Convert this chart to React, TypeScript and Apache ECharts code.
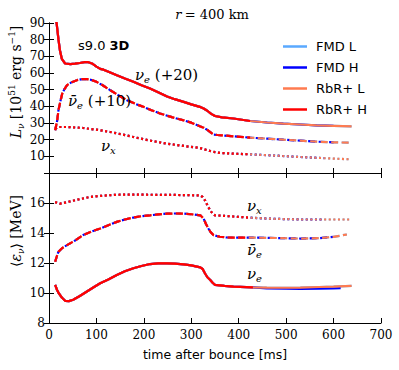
import { useEffect, useRef } from "react";
import * as echarts from "echarts";

// ---- data (time after bounce [ms], value) ----
const lumNue = [[13,95],[16,90],[20,80],[23,73.7],[27,68.5],[34,65.7],[45,65.3],[55,65.6],[65,66],[75,66.5],[83,66.5],[92,65.5],[100,63.8],[108,62.5],[115,62],[128,60.5],[143,58.7],[160,56.7],[178,54.7],[195,52.6],[213,50.7],[230,48.5],[249,45.9],[265,44.3],[284,42.7],[300,41.2],[318,39.7],[326,38.7],[333,37.5],[342,35.5],[350,34.2],[365,33.4],[389,32.7],[424,31.2],[460,30.3],[494,29.6],[530,29.1],[564,28.6],[600,28.3],[638,28]];
const lumAnue = [[13,25.6],[17,31],[20,37.7],[24,43],[28,47.7],[33,50.5],[38,52.7],[48,54.5],[59,55.7],[70,56.3],[80,56.3],[90,55.8],[100,54.7],[114,52.5],[129,49.7],[146,46.7],[164,43.7],[182,41.5],[199,39.7],[216,37.7],[234,35.7],[259,33.5],[284,31.6],[300,30.2],[318,28],[326,27.2],[333,26],[340,24.5],[347,23],[355,22.8],[364,22.6],[390,22],[424,21.2],[460,20.6],[494,20],[530,19.4],[564,18.8],[600,18.4],[635,18.2]];
const lumNux = [[13,26.6],[20,27.6],[40,27.6],[72,27],[100,26],[129,24.6],[155,23.1],[178,21.6],[210,19.6],[249,17.6],[285,16.2],[318,15],[330,14],[340,13.2],[350,12.5],[361,12],[390,11.6],[424,11.2],[480,10.4],[530,9.6],[580,8.9],[635,8.2]];

const eNux = [[13,16.06],[18,16],[23,15.96],[30,16],[38,16.06],[60,16.22],[86,16.4],[110,16.48],[143,16.55],[180,16.56],[213,16.55],[260,16.54],[300,16.52],[319,16.5],[324,16.4],[329,16.18],[334,15.85],[340,15.5],[345,15.3],[350,15.18],[389,15.1],[420,15.03],[459,14.96],[530,14.9],[580,14.9],[638,14.9]];
const eAnue = [[13,12.08],[17,12.5],[20,12.75],[28,13],[38,13.19],[55,13.5],[72,13.86],[90,14.1],[108,14.3],[125,14.52],[143,14.74],[160,14.9],[178,15.03],[195,15.12],[213,15.18],[230,15.24],[249,15.29],[265,15.3],[284,15.29],[300,15.25],[319,15.18],[326,14.96],[331,14.6],[336,14.3],[341,14.05],[347,13.86],[360,13.75],[375,13.7],[420,13.69],[459,13.68],[530,13.63],[570,13.66],[600,13.74],[628,13.9]];
const eNueHead = [[13,10.54],[17,10.2],[20.5,9.99],[27,9.7],[34,9.48],[42,9.46],[51,9.55],[65,9.8],[80,10.1],[95,10.4],[108,10.65],[125,10.9],[143,11.2],[160,11.45],[178,11.65],[195,11.8],[213,11.93],[230,11.97],[249,11.98],[265,11.96],[284,11.91],[300,11.84],[319,11.71],[324,11.6],[329,11.3],[334,11.05],[340,10.87],[345,10.68],[350,10.54],[370,10.47],[389,10.43],[430,10.38]];
const eNueTailL = [[459,10.36],[500,10.35],[530,10.36],[570,10.4],[600,10.42],[638,10.47]];
const eNueTailH = [[459,10.31],[500,10.29],[530,10.28],[570,10.29],[600,10.3],[615,10.32]];

const modelNames = ["FMD L", "FMD H", "RbR+ L", "RbR+ H"];
const modelColors = ["#5aa9ff", "#0000ff", "#ff7b50", "#ff0000"];
const modelEnds = [640, 618, 640, 432];
const modelDashOffsets = [0, 2, 0, 0];

const SERIF = "DejaVu Serif";
const SANS = "DejaVu Sans";

export default function App() {
  const ref = useRef<HTMLDivElement>(null);
  useEffect(() => {
    if (!ref.current) return;
    const chart = echarts.init(ref.current, null, { renderer: "svg" });

    const curves = [
      { grid: 0, data: () => lumNue, type: "solid" },
      { grid: 0, data: () => lumAnue, type: "dashed" },
      { grid: 0, data: () => lumNux, type: "dotted" },
      { grid: 1, data: (m: number) => eNueHead.concat(m === 1 ? eNueTailH : eNueTailL), type: "solid" },
      { grid: 1, data: () => eAnue, type: "dashed" },
      { grid: 1, data: () => eNux, type: "dotted" },
    ];
    const series: any[] = [];
    curves.forEach((c) => {
      modelNames.forEach((name, m) => {
        const dash = c.type === "dashed" ? [7, 3.5] : c.type === "dotted" ? [2, 2.6] : "solid";
        series.push({
          type: "line",
          name,
          xAxisIndex: c.grid === 0 ? 0 : 2,
          yAxisIndex: c.grid === 0 ? 0 : 2,
          data: c.data(m).filter((p) => p[0] <= modelEnds[m]),
          showSymbol: false,
          symbol: "none",
          smooth: false,
          clip: true,
          z: 2 + m,
          lineStyle: {
            color: modelColors[m],
            width: 2.2,
            type: dash,
            dashOffset: c.type === "dashed" ? modelDashOffsets[m] : 0,
            cap: "butt",
          },
          itemStyle: { color: modelColors[m] },
        });
      });
    });

    const axisCommon = {
      axisLine: { show: true, lineStyle: { color: "#000", width: 1 } },
      axisTick: { show: true, inside: true, length: 5, lineStyle: { color: "#000" } },
      splitLine: { show: false },
    };
    const labelStyle = { fontFamily: SERIF, fontSize: 12, color: "#000" };

    const xAxis: any[] = [];
    const yAxis: any[] = [];
    [0, 1].forEach((g) => {
      xAxis.push({
        ...axisCommon,
        gridIndex: g,
        type: "value",
        position: "bottom",
        min: 0,
        max: 700,
        interval: 100,
        axisLabel: g === 1 ? { ...labelStyle, margin: 6 } : { show: false },
      });
      xAxis.push({
        ...axisCommon,
        gridIndex: g,
        type: "value",
        position: "top",
        min: 0,
        max: 700,
        interval: 100,
        axisLabel: { show: false },
      });
      const yr = g === 0 ? { min: 0, max: 90, interval: 10 } : { min: 8, max: 18, interval: 2 };
      yAxis.push({
        ...axisCommon,
        gridIndex: g,
        type: "value",
        position: "left",
        ...yr,
        axisLabel: {
          ...labelStyle,
          margin: 4,
          showMinLabel: g === 1,
          showMaxLabel: g === 0,
        },
      });
      yAxis.push({
        ...axisCommon,
        gridIndex: g,
        type: "value",
        position: "right",
        ...yr,
        axisLabel: { show: false },
      });
    });

    const nuRich = {
      it: { fontFamily: SERIF, fontStyle: "italic", fontSize: 15, lineHeight: 18, verticalAlign: "middle", color: "#000" },
      sub: { fontFamily: SERIF, fontStyle: "italic", fontSize: 10, lineHeight: 10, verticalAlign: "bottom", color: "#000" },
      rm: { fontFamily: SERIF, fontSize: 15, lineHeight: 18, verticalAlign: "middle", color: "#000" },
    };

    const textEl = (x: number, y: number, text: string, rich: any, align = "left", rotation = 0) => ({
      type: "text",
      x,
      y,
      rotation,
      style: {
        text,
        rich,
        textAlign: align,
        textVerticalAlign: "middle",
      },
      z: 100,
    });

    const graphic: any[] = [
      textEl(212, 14, "{i|r} {r|= 400 km}", {
        i: { fontFamily: SERIF, fontStyle: "italic", fontSize: 13, color: "#000" },
        r: { fontFamily: SERIF, fontSize: 13, color: "#000" },
      }, "center"),
      textEl(78, 45, "{n|s9.0 }{b|3D}", {
        n: { fontFamily: SANS, fontSize: 13, color: "#000" },
        b: { fontFamily: SANS, fontSize: 13, fontWeight: "bold", color: "#000" },
      }),
      textEl(135, 75, "{it|ν}{sub|e}{rm| (+20)}", nuRich),
      textEl(68, 101, "{it|ν̄}{sub|e}{rm| (+10)}", nuRich),
      textEl(101, 146, "{it|ν}{sub|x}", nuRich),
      textEl(247, 206, "{it|ν}{sub|x}", nuRich),
      textEl(247, 250, "{it|ν̄}{sub|e}", nuRich),
      textEl(247, 274, "{it|ν}{sub|e}", nuRich),
      {
        type: "text",
        x: 215,
        y: 354,
        style: {
          text: "time after bounce [ms]",
          font: `12.5px ${SANS}`,
          fill: "#000",
          textAlign: "center",
          textVerticalAlign: "middle",
        },
      },
      textEl(16, 82, "{it|L}{sub|ν}{rm| [10}{sup|51}{rm| erg s}{sup|−1}{rm|]}", {
        it: { fontFamily: SERIF, fontStyle: "italic", fontSize: 14, lineHeight: 18, verticalAlign: "middle", color: "#000" },
        rm: { fontFamily: SERIF, fontSize: 14, lineHeight: 18, verticalAlign: "middle", color: "#000" },
        sub: { fontFamily: SERIF, fontStyle: "italic", fontSize: 9, lineHeight: 9, verticalAlign: "bottom", color: "#000" },
        sup: { fontFamily: SERIF, fontSize: 9, lineHeight: 9, verticalAlign: "top", color: "#000" },
      }, "center", Math.PI / 2),
      textEl(16, 231, "{rm|⟨}{it|ε}{sub|ν}{rm|⟩ [MeV]}", {
        it: { fontFamily: SERIF, fontStyle: "italic", fontSize: 14, lineHeight: 18, verticalAlign: "middle", color: "#000" },
        rm: { fontFamily: SERIF, fontSize: 14, lineHeight: 18, verticalAlign: "middle", color: "#000" },
        sub: { fontFamily: SERIF, fontStyle: "italic", fontSize: 9, lineHeight: 9, verticalAlign: "bottom", color: "#000" },
      }, "center", Math.PI / 2),
    ];

    chart.setOption({
      animation: false,
      backgroundColor: "#fff",
      grid: [
        { left: 49, top: 23, width: 332, height: 150 },
        { left: 49, top: 173, width: 332, height: 150 },
      ],
      xAxis,
      yAxis,
      legend: {
        orient: "vertical",
        left: 278,
        top: 35,
        itemWidth: 24,
        itemHeight: 14,
        itemGap: 8,
        textStyle: { fontFamily: SANS, fontSize: 13, color: "#000", padding: [0, 0, 0, 4] },
        data: modelNames.map((n, i) => ({
          name: n,
          icon: "path://M0,0 L24,0 L24,2.5 L0,2.5 Z",
          itemStyle: { color: modelColors[i] },
        })),
        selectedMode: false,
      },
      graphic,
      series,
    });
    return () => chart.dispose();
  }, []);
  return <div ref={ref} style={{ width: 399, height: 370, position: "absolute", left: 0, top: 0 }} />;
}
